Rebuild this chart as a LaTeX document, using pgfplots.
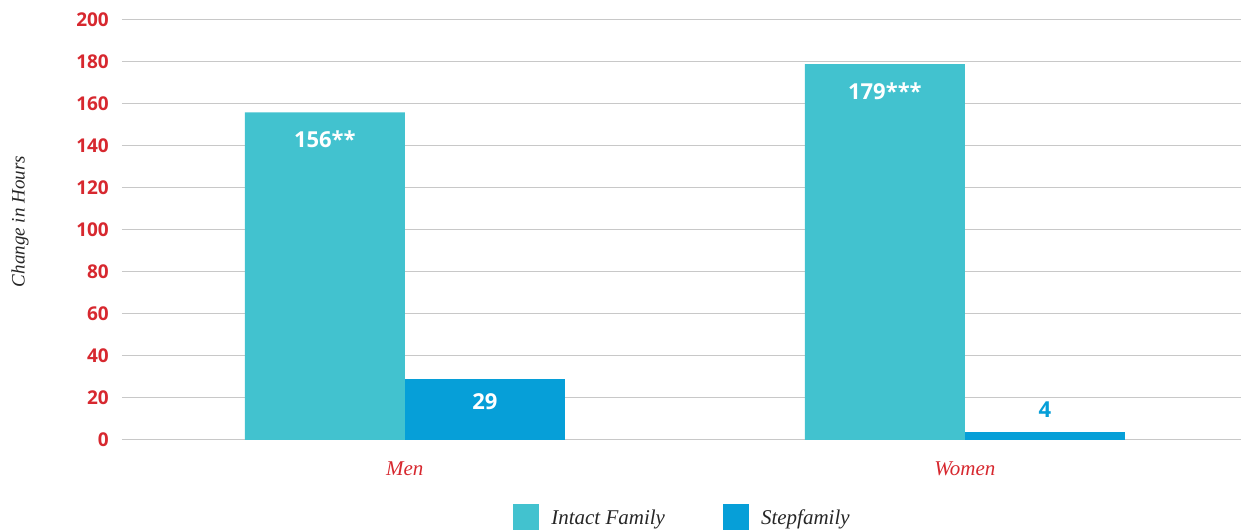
\documentclass[border=0pt]{standalone}
\usepackage{pgfplots}
\pgfplotsset{compat=1.18}
\usepackage{fontspec}
\setmainfont{Liberation Serif}
\newfontfamily\tickfont{Open Sans}
\newfontfamily\valfont{Open Sans}
\definecolor{intact}{HTML}{42C2CF}
\definecolor{step}{HTML}{069FD8}
\definecolor{tickred}{HTML}{D7282F}
\definecolor{gridgray}{HTML}{C8C8C8}
\pgfplotsset{mybox/.style={legend image code/.code={\fill[##1,draw=none] (0pt,-12pt) rectangle (26pt,14pt);}}}
\begin{document}
\begin{tikzpicture}
\begin{axis}[
  scale only axis, width=1119pt, height=420pt,
  xmin=-0.505, xmax=1.493, ymin=0, ymax=200,
  ytick={0,20,...,200}, xtick={0,1}, xticklabels={Men,Women},
  ymajorgrids, grid style={gridgray, line width=1pt},
  axis line style={draw=none}, major tick length=0pt,
  /pgf/number format/assume math mode=true,
  yticklabel style={font=\tickfont\bfseries\fontsize{19}{21}\selectfont, text=tickred, inner sep=0pt, xshift=-13pt},
  xticklabel style={font=\itshape\fontsize{21}{24}\selectfont, text=tickred, inner sep=0pt, yshift=-22pt},
  ylabel={Change in Hours},
  ylabel style={font=\itshape\fontsize{19}{22}\selectfont, text=black!85, at={(axis description cs:-0.091,0.52)}, anchor=center},
  legend columns=2,
  legend style={at={(0.5,-0.152)}, anchor=north, draw=none, fill=none, inner sep=0pt,
    font=\itshape\fontsize{21}{24}\selectfont, text=black!85,
    nodes={inner sep=0pt},
    /tikz/every odd column/.append style={column sep=12pt},
    /tikz/every even column/.append style={column sep=58pt}},
]
\addplot[ybar, mybox, bar width=0.2857, bar shift=-0.1429, fill=intact, draw=none,
  nodes near coords, point meta=explicit symbolic,
  every node near coord/.style={anchor=center, xshift=-80pt, yshift=-27pt, text=white, font=\valfont\bfseries\fontsize{22}{24}\selectfont}]
  coordinates {(0,156) [156**] (1,179) [179***]};
\addplot[ybar, mybox, bar width=0.2857, bar shift=0.1429, fill=step, draw=none,
  nodes near coords, point meta=explicit symbolic,
  every node near coord/.style={anchor=center, xshift=80pt, yshift=-23pt, text=white, font=\valfont\bfseries\fontsize{22}{24}\selectfont}]
  coordinates {(0,29) [29]};
\addplot[ybar, mybox, forget plot, bar width=0.2857, bar shift=0.1429, fill=step, draw=none,
  nodes near coords, point meta=explicit symbolic,
  every node near coord/.style={anchor=center, xshift=80pt, yshift=22pt, text=step, font=\valfont\bfseries\fontsize{22}{24}\selectfont}]
  coordinates {(1,4) [4]};
\legend{Intact Family, Stepfamily}
\coordinate (bl) at (rel axis cs:0,0);
\coordinate (tr) at (rel axis cs:1,1);
\end{axis}
\pgfresetboundingbox
\path ([shift={(-122pt,-91pt)}]bl) rectangle ([shift={(0pt,20pt)}]tr);
\end{tikzpicture}
\end{document}
